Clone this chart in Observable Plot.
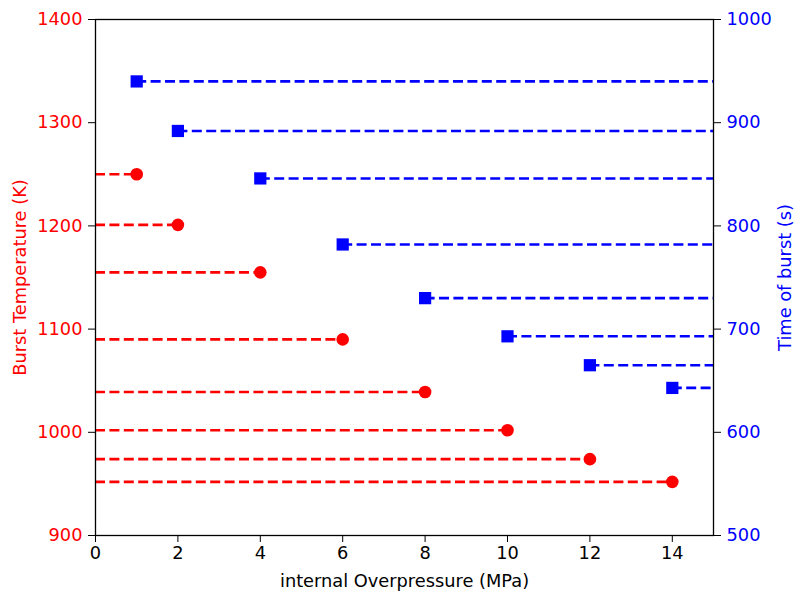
<!DOCTYPE html>
<html>
<head>
<meta charset="utf-8">
<script src="https://cdn.jsdelivr.net/npm/d3@7"></script>
<script src="https://cdn.jsdelivr.net/npm/@observablehq/plot@0.6"></script>
<style>
  html, body { margin: 0; padding: 0; background: #fff; }
  #chart svg { display: block; }
</style>
</head>
<body>
<div id="chart"></div>
<script>
// Data
const pressure = [1, 2, 4, 6, 8, 10, 12, 14];                  // internal Overpressure (MPa)
const burstTemp = [1250, 1201, 1155, 1090, 1039, 1002, 974, 952]; // Burst Temperature (K), left axis
const burstTime = [940, 892, 846, 782, 730, 693, 665, 643];      // Time of burst (s), right axis

const xTicks = [0, 2, 4, 6, 8, 10, 12, 14];
const leftTicks = [900, 1000, 1100, 1200, 1300, 1400];
const rightTicks = [500, 600, 700, 800, 900, 1000];

// dual axis: right domain [500,1000] is mapped onto left domain [900,1400]
const leftDomain = [900, 1400];
const rightDomain = [500, 1000];
const toLeft = v => leftDomain[0] + (v - rightDomain[0]) * (leftDomain[1] - leftDomain[0]) / (rightDomain[1] - rightDomain[0]);
const toRight = v => rightDomain[0] + (v - leftDomain[0]) * (rightDomain[1] - rightDomain[0]) / (leftDomain[1] - leftDomain[0]);

const tempData = pressure.map((p, i) => ({x: p, y: burstTemp[i]}));
const timeData = pressure.map((p, i) => ({x: p, y: toLeft(burstTime[i])}));

const xMax = 15;
const dash = "10,4.4";
const lw = 2.6;

const chart = Plot.plot({
  width: 796,
  height: 591,
  marginLeft: 95,
  marginRight: 83,
  marginTop: 19,
  marginBottom: 56,
  style: {fontFamily: "DejaVu Sans", fontSize: "17.8px", background: "#fff", overflow: "visible"},
  x: {domain: [0, xMax]},
  y: {domain: leftDomain},
  marks: [
    Plot.ruleY(tempData, {y: "y", x1: 0, x2: "x", stroke: "#ff0000", strokeWidth: lw, strokeDasharray: dash}),
    Plot.ruleY(timeData, {y: "y", x1: "x", x2: xMax, stroke: "#0000ff", strokeWidth: lw, strokeDasharray: dash}),
    Plot.dot(tempData, {x: "x", y: "y", r: 6.3, fill: "#ff0000", stroke: "none"}),
    Plot.dot(timeData, {x: "x", y: "y", r: 6.9, symbol: "square", fill: "#0000ff", stroke: "none"}),
    Plot.frame({stroke: "black", strokeWidth: 1.3}),
    Plot.axisX({
      ticks: xTicks, tickFormat: d => String(d), tickSize: 7, tickPadding: 4, stroke: "black", fill: "black",
      label: "internal Overpressure (MPa)", labelAnchor: "center", labelArrow: "none", labelOffset: 51
    }),
    Plot.axisY({
      anchor: "left", ticks: leftTicks, tickFormat: d => String(d), tickSize: 7, tickPadding: 6, stroke: "black", fill: "#ff0000",
      label: "Burst Temperature (K)", labelAnchor: "center", labelArrow: "none", labelOffset: 82
    }),
    Plot.axisY({
      anchor: "right", ticks: rightTicks.map(toLeft), tickFormat: d => String(Math.round(toRight(d))),
      tickSize: 7, tickPadding: 6, stroke: "black", fill: "#0000ff",
      label: "Time of burst (s)", labelAnchor: "center", labelArrow: "none", labelOffset: 77
    })
  ]
});

document.getElementById("chart").appendChild(chart);
</script>
</body>
</html>
